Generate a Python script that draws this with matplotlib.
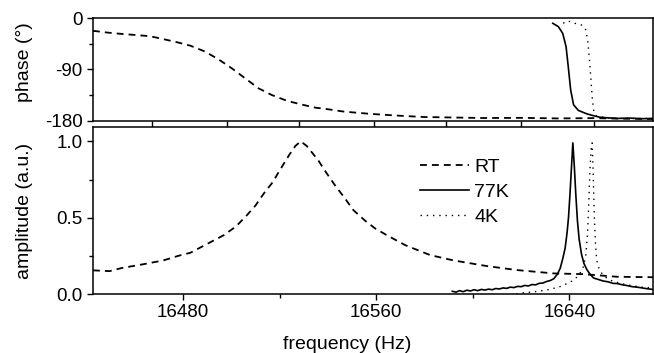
import matplotlib
matplotlib.use('Agg')
import matplotlib.pyplot as plt

plt.rcParams['font.family'] = ['Liberation Sans', 'DejaVu Sans']
plt.rcParams['axes.unicode_minus'] = False

# --- amplitude (a.u.) ---
rt_f = [16442.7, 16449.6, 16454.5, 16463.5, 16471.8, 16478, 16483, 16489, 16496.8,
        16501.7, 16505.8, 16510, 16513.5, 16517, 16520.4, 16523.9, 16526.5, 16528.7,
        16531.2, 16536, 16539.5, 16543, 16547.1, 16550.5, 16555.4, 16559.5, 16564.4,
        16572, 16582.3, 16592, 16605.8, 16618.2, 16633.4, 16645.8, 16659.7, 16674.6]
rt_amp = [0.155, 0.15, 0.17, 0.195, 0.22, 0.25, 0.27, 0.32, 0.385,
          0.44, 0.505, 0.58, 0.66, 0.73, 0.82, 0.91, 0.97, 1.0,
          0.97, 0.875, 0.79, 0.71, 0.625, 0.55, 0.48, 0.43, 0.385,
          0.32, 0.255, 0.22, 0.183, 0.157, 0.135, 0.13, 0.113, 0.11]

k77_f = [16591.5, 16593, 16594.5, 16596, 16597.5, 16599, 16600.5, 16602, 16603.5, 16605,
         16606.5, 16608, 16609.5, 16611, 16612.5, 16614, 16615.5, 16617, 16618.5, 16620,
         16621.5, 16623, 16624.5, 16626, 16627.5, 16629, 16630.5, 16632, 16633.5, 16635,
         16636.2, 16637.2, 16638.2, 16639, 16639.6, 16640.2, 16640.8, 16641.4, 16642,
         16642.6, 16643.3, 16644, 16645, 16646, 16647.2, 16648.5, 16650, 16652, 16654,
         16656, 16658, 16660, 16662, 16664, 16666, 16668, 16670, 16672, 16674.5]
k77_amp = [0.018, 0.012, 0.022, 0.015, 0.025, 0.02, 0.028, 0.022, 0.03, 0.026,
           0.032, 0.028, 0.036, 0.033, 0.04, 0.037, 0.045, 0.042, 0.05, 0.048,
           0.056, 0.053, 0.062, 0.06, 0.07, 0.072, 0.082, 0.088, 0.1, 0.13,
           0.17, 0.23, 0.3, 0.4, 0.5, 0.65, 0.82, 0.99, 0.84,
           0.66, 0.48, 0.36, 0.26, 0.2, 0.16, 0.13, 0.105, 0.095, 0.085,
           0.08, 0.07, 0.068, 0.06, 0.055, 0.048, 0.045, 0.04, 0.035, 0.03]

k4_f = [16618, 16621, 16624, 16627, 16630, 16633, 16636, 16639, 16641, 16643, 16644.5,
        16645.8, 16646.8, 16647.5, 16648, 16648.5, 16649, 16649.4, 16649.8, 16650.3,
        16650.8, 16651.3, 16652.2, 16653.4, 16655, 16657, 16659, 16661, 16664, 16667,
        16670, 16674.5]
k4_amp = [0.0, 0.008, 0.012, 0.018, 0.025, 0.035, 0.048, 0.068, 0.085, 0.11, 0.14,
          0.18, 0.26, 0.4, 0.6, 0.82, 0.95, 0.99, 0.8, 0.5,
          0.32, 0.22, 0.17, 0.135, 0.11, 0.09, 0.08, 0.07, 0.06, 0.052,
          0.045, 0.04]

# --- phase (deg) ---
rt_pf = [16442.7, 16448.4, 16454.6, 16460.8, 16466.3, 16471.2, 16477.4, 16482.9, 16489.1,
         16494.6, 16500.2, 16505.7, 16511.2, 16516.8, 16523, 16528.5, 16534.7, 16540.2,
         16546.5, 16557.5, 16568.5, 16579.5, 16593.3, 16604.4, 16620, 16635, 16650,
         16662, 16674.6]
rt_ph = [-22, -25, -27.5, -29.5, -31.5, -36, -42, -48, -58.5,
         -72, -88, -105.5, -123, -135, -145, -151, -157, -160,
         -164, -168, -171, -173.5, -174.5, -175.3, -175, -176, -175.5,
         -176.5, -177]

k77_pf = [16633.1, 16635.4, 16637.2, 16638.6, 16639.5, 16640.5, 16641.7, 16643.7,
          16647.2, 16650.6, 16652.7, 16656, 16660, 16665, 16670, 16674.6]
k77_ph = [-8.8, -14.7, -26.4, -50, -85, -126, -152, -162,
          -168, -172, -174, -175, -176, -175.5, -176.5, -176]

k4_pf = [16637.4, 16639, 16640.5, 16642.2, 16645, 16646.8, 16647.7, 16648.4, 16649,
         16649.5, 16650.1, 16651.2, 16654, 16658.1, 16664, 16674.6]
k4_ph = [-8.8, -4.7, -6, -8.8, -11.8, -20.6, -44, -79, -114,
         -143.6, -164, -171.8, -174, -175.8, -176, -176]

top_ticks = [16467, 16498, 16528, 16559, 16589, 16620, 16650]
xlim = (16442.7, 16674.6)

fig = plt.figure(figsize=(6.54, 3.53), dpi=100)
ax1 = fig.add_axes([0.1422, 0.6581, 0.8563, 0.2901])
ax2 = fig.add_axes([0.1422, 0.1671, 0.8563, 0.4731])

fs = 13.5
lfs = 14
ax1.plot(rt_pf, rt_ph, color='black', lw=1.3, dashes=(3.8, 2.8))
ax1.plot(k77_pf, k77_ph, color='black', lw=1.2)
ax1.plot(k4_pf, k4_ph, color='black', lw=1.0, dashes=(1, 3.5))
ax1.set_xlim(*xlim)
ax1.set_ylim(-180, 0)
ax1.set_yticks([0, -90, -180])
ax1.set_yticks([-45, -135], minor=True)
ax1.set_xticks(top_ticks)
ax1.set_xticklabels([])
ax1.set_ylabel('phase (°)', fontsize=lfs)
ax1.yaxis.set_label_coords(-0.108, 0.57)

ax2.plot(rt_f, rt_amp, color='black', lw=1.3, dashes=(3.8, 2.8), label='RT')
ax2.plot(k77_f, k77_amp, color='black', lw=1.2, label='77K')
ax2.plot(k4_f, k4_amp, color='black', lw=1.0, dashes=(1, 3.5), label='4K')
ax2.set_xlim(*xlim)
ax2.set_ylim(0, 1.094)
ax2.set_yticks([0.0, 0.5, 1.0])
ax2.set_yticks([0.25, 0.75], minor=True)
ax2.set_xticks([16480, 16560, 16640])
ax2.set_xticks([16520, 16600], minor=True)
ax2.set_ylabel('amplitude (a.u.)', fontsize=lfs)
ax2.yaxis.set_label_coords(-0.108, 0.5)
ax2.set_xlabel('frequency (Hz)', fontsize=lfs)
ax2.xaxis.set_label_coords(0.454, -0.25)

for ax in (ax1, ax2):
    for s in ax.spines.values():
        s.set_linewidth(1.1)
    ax.tick_params(which='major', direction='out', length=4.3, width=1.0,
                   labelsize=fs, pad=3)
    ax.tick_params(which='minor', direction='out', length=2.6, width=1.0)
    ax.tick_params(top=False, right=False)

ax2.legend(loc='upper left', bbox_to_anchor=(0.584, 0.815), frameon=False,
           fontsize=lfs, handlelength=2.5, handletextpad=0.3, borderpad=0,
           borderaxespad=0, labelspacing=0.4)

fig.savefig('out.png', dpi=100)
